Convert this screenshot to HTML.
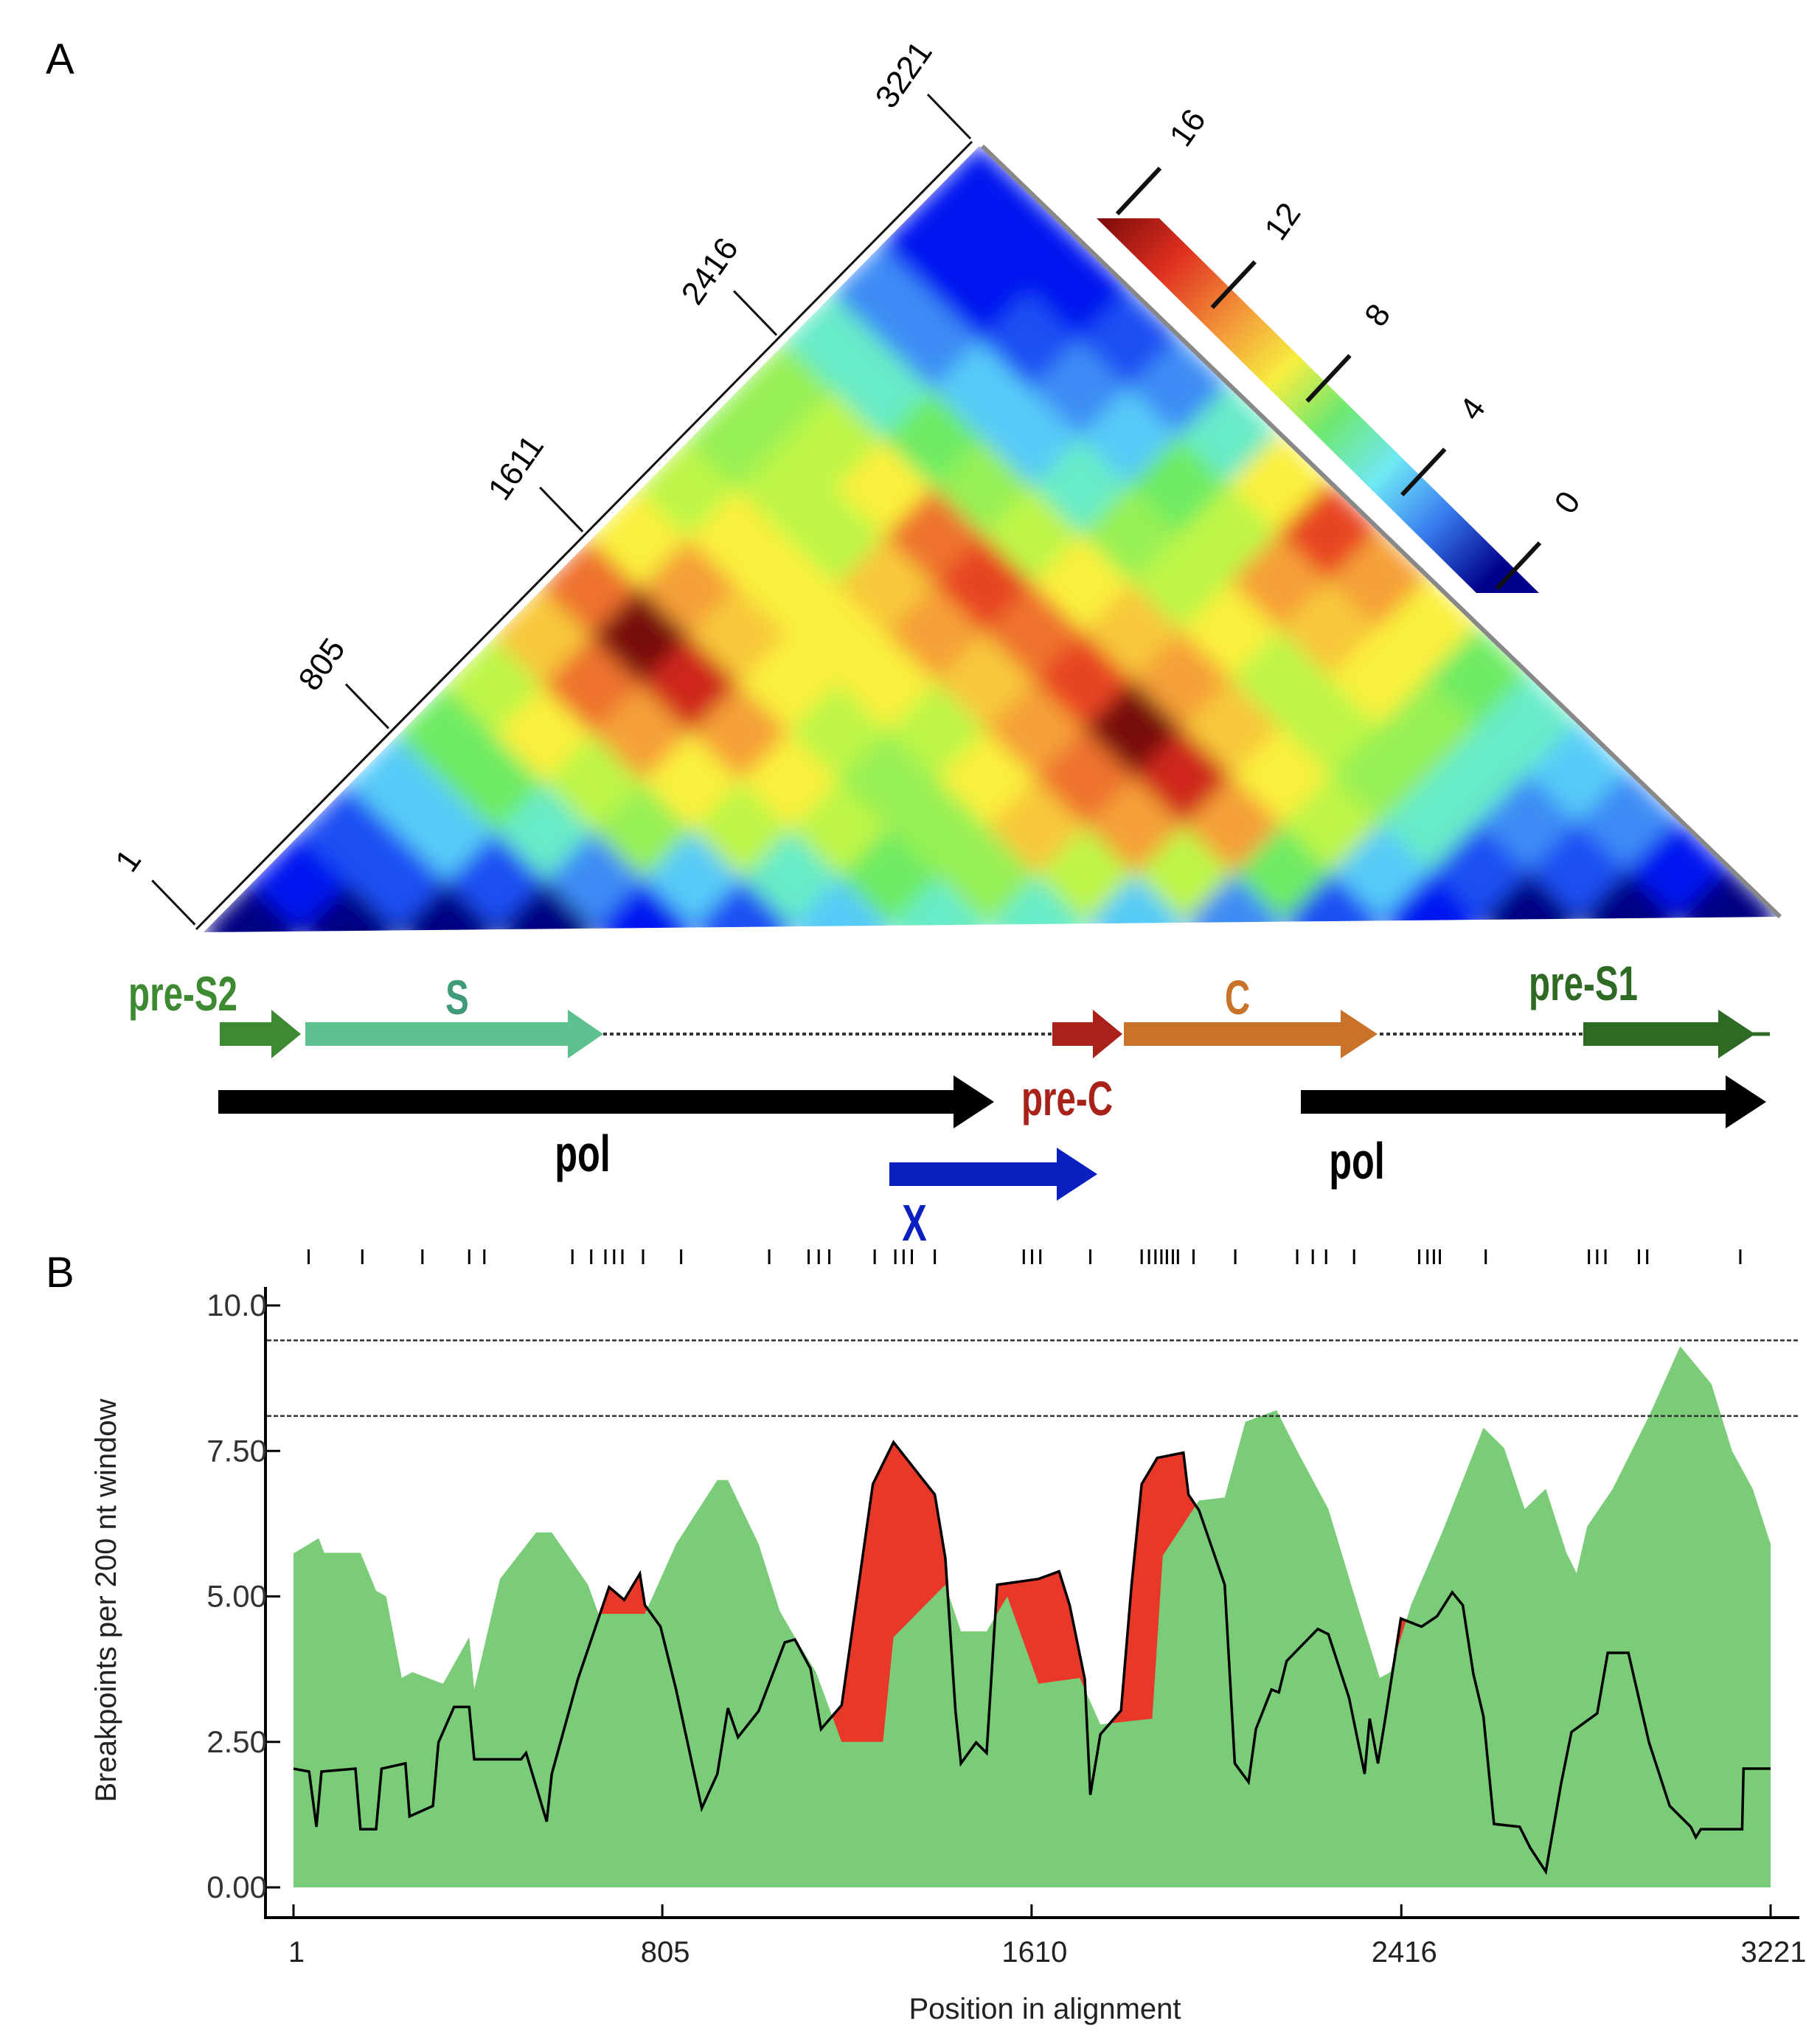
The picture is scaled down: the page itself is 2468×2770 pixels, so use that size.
<!DOCTYPE html>
<html><head><meta charset="utf-8"><style>
html,body{margin:0;padding:0;background:#fff}
svg{display:block}
text{font-family:"Liberation Sans",sans-serif}
</style></head><body>
<svg id="fig" width="2468" height="2770" viewBox="0 0 2468 2770" xmlns="http://www.w3.org/2000/svg">
<defs>
<filter id="soft" x="-5%" y="-5%" width="110%" height="110%"><feGaussianBlur stdDeviation="14"/></filter>
<clipPath id="triClip"><polygon points="276,1264 1328,198 2410,1243"/></clipPath>
<linearGradient id="cbGrad" gradientUnits="userSpaceOnUse" x1="1487" y1="296" x2="2002" y2="804">
<stop offset="0" stop-color="#7a0a0a"/><stop offset="0.16" stop-color="#e03020"/><stop offset="0.32" stop-color="#f39a3a"/>
<stop offset="0.45" stop-color="#f7ee40"/><stop offset="0.58" stop-color="#6fe870"/><stop offset="0.72" stop-color="#6fe8f5"/>
<stop offset="0.85" stop-color="#3a7ff0"/><stop offset="1" stop-color="#00008a"/></linearGradient>
</defs>
<text x="62" y="100" font-size="58">A</text>
<text x="62" y="1745" font-size="58">B</text>
<g id="heat" clip-path="url(#triClip)"><g id="heatCells" filter="url(#soft)"></g></g>
<g id="heatAxis"></g>
<g id="cbar"></g>
<g id="genes"></g>
<g id="chartB"></g>
</svg>
<script>
const NS="http://www.w3.org/2000/svg";
function mk(tag,attrs,parent){const e=document.createElementNS(NS,tag);for(const k in attrs)e.setAttribute(k,attrs[k]);parent.appendChild(e);return e;}

// ---------- Panel A heatmap data (16 bins of ~201 nt, upper triangle rows) ----------
const heatRows=[
[0,1,2,4,6,8,10,12,9,8,7,7,5,3,1,1],
[0,2,4,6,9,12,16,11,9,8,8,5,3,1,1],
[0,2,5,8,11,14,10,9,8,9,6,4,2,1],
[0,3,7,9,11,9,9,10,12,7,4,3,2],
[1,4,8,9,8,9,11,13,8,5,4,3],
[2,5,8,7,8,10,12,9,7,6,5],
[4,6,7,9,11,13,10,8,8,9],
[5,7,10,12,16,11,9,11,13],
[5,8,11,14,10,8,10,11],
[4,8,11,9,8,9,9],
[3,6,8,7,7,6],
[2,4,5,5,5],
[1,2,3,4],
[0,2,3],
[0,1],
[0]];
const heatAxisTicks=[1,805,1611,2416,3221];
const cbarTicks=[16,12,8,4,0];
const genomeLen=3221;

const L=[276,1264], A=[1328,198], R=[2410,1243];
function tri(a,b){const u=b/genomeLen,v=a/genomeLen;return [L[0]+u*(A[0]-L[0])+v*(R[0]-A[0]), L[1]+u*(A[1]-L[1])+v*(R[1]-A[1])];}
const cstops=[[0,[0,0,130]],[1,[0,20,240]],[3,[60,140,245]],[4.5,[100,235,250]],[6,[110,235,100]],[8,[190,245,70]],[9,[250,240,60]],[11,[245,160,55]],[13.5,[228,45,30]],[16,[120,10,10]]];
function cmap(v){for(let k=1;k<cstops.length;k++){if(v<=cstops[k][0]){const [v0,c0]=cstops[k-1],[v1,c1]=cstops[k];const t=(v-v0)/(v1-v0);return `rgb(${c0.map((c,i)=>Math.round(c+(c1[i]-c)*t)).join(',')})`;}}return 'rgb(120,10,10)';}
const hc=document.getElementById('heatCells');
const nb=heatRows.length, bw=genomeLen/nb;
heatRows.forEach((row,i)=>{row.forEach((val,k)=>{const j=i+k;
 const a0=i*bw-bw*0.02,a1=(i+1)*bw+bw*0.02,b0=j*bw-bw*0.02,b1=(j+1)*bw+bw*0.02;
 const pts=[tri(a0,b0),tri(a0,b1),tri(a1,b1),tri(a1,b0)].map(p=>p.join(',')).join(' ');
 const c=mk('polygon',{points:pts,fill:cmap(val)},hc);
 
 
});});
// triangle edges
const ha=document.getElementById('heatAxis');
mk('line',{x1:L[0]-10,y1:L[1]-4,x2:A[0]-10,y2:A[1]-6,stroke:'#111','stroke-width':3},ha);
mk('line',{x1:A[0]+4,y1:A[1],x2:R[0]+4,y2:R[1],stroke:'#888','stroke-width':6},ha);
heatAxisTicks.forEach(t=>{const p=tri(0,t);
 const ln=mk('line',{x1:p[0]-12,y1:p[1]-10,x2:p[0]-70,y2:p[1]-70,stroke:'#111','stroke-width':3},ha);
 
 
 const tx=mk('text',{x:p[0]-100,y:p[1]-95,'font-size':44,'text-anchor':'middle','dominant-baseline':'middle',transform:`rotate(-55 ${p[0]-100} ${p[1]-95})`},ha);
 tx.textContent=t;
 
 
});
// colorbar
const cb=document.getElementById('cbar');
mk('polygon',{points:'1487,296 1572,296 2087,804 2002,804',fill:'url(#cbGrad)'},cb);
const cbTop=[1490,290],cbBot=[2005,798];
cbarTicks.forEach(t=>{const f=(16-t)/16;const x=cbTop[0]+f*(cbBot[0]-cbTop[0])+25,y=cbTop[1]+f*(cbBot[1]-cbTop[1]);
 const ln=mk('line',{x1:x,y1:y,x2:x+58,y2:y-62,stroke:'#111','stroke-width':6},cb);
 
 
 const tx=mk('text',{x:x+98,y:y-115,'font-size':44,'text-anchor':'middle','dominant-baseline':'middle',transform:`rotate(-55 ${x+98} ${y-115})`},cb);
 tx.textContent=t;
 
 
});

// ---------- Genome map ----------
const g=document.getElementById('genes');
function arrow(x0,x1,yc,sh,hh,hl,col,name){const p=`${x0},${yc-sh/2} ${x1-hl},${yc-sh/2} ${x1-hl},${yc-hh/2} ${x1},${yc} ${x1-hl},${yc+hh/2} ${x1-hl},${yc+sh/2} ${x0},${yc+sh/2}`;const e=mk('polygon',{points:p,fill:col},g);}
function lbl(x,y,s,col,name,size){const e=mk('text',{x:0,y:0,'font-size':size||66,'font-weight':'bold','text-anchor':'middle',fill:col,transform:`translate(${x} ${y}) scale(0.72 1)`},g);e.textContent=s;}
mk('line',{x1:818,y1:1402,x2:1427,y2:1402,stroke:'#333','stroke-width':4,'stroke-dasharray':'5 4'},g);
mk('line',{x1:1871,y1:1402,x2:2147,y2:1402,stroke:'#333','stroke-width':4,'stroke-dasharray':'5 4'},g);
mk('line',{x1:2370,y1:1402,x2:2400,y2:1402,stroke:'#2f6a25','stroke-width':5},g);
arrow(298,408,1402,32,66,40,'#3d8a33','pre-s2-arrow');
arrow(414,818,1402,32,66,48,'#5cc08f','s-arrow');
arrow(1427,1522,1402,32,66,40,'#a8221a','pre-c-arrow');
arrow(1524,1868,1402,32,66,50,'#c9722a','c-arrow');
arrow(2147,2380,1402,32,66,50,'#2f6a25','pre-s1-arrow');
arrow(296,1348,1494,32,72,55,'#000','pol-arrow-1');
arrow(1764,2395,1494,32,72,55,'#000','pol-arrow-2');
arrow(1206,1488,1592,32,72,55,'#0a1fc0','x-arrow');
lbl(248,1370,'pre-S2','#3d8a33','pre-s2-label');
lbl(620,1375,'S','#3f9a78','s-label');
lbl(1678,1375,'C','#c9722a','c-label');
lbl(2147,1356,'pre-S1','#2f6a25','pre-s1-label');
lbl(1447,1512,'pre-C','#a8221a','pre-c-label');
lbl(790,1588,'pol','#000','pol-label-1',70);
lbl(1840,1598,'pol','#000','pol-label-2',70);
lbl(1240,1682,'X','#0a1fc0','x-label',70);

// ---------- Panel B data ----------
const greenPos=[1,56,68,147,181,203,237,260,327,384,395,451,530,564,643,666,767,835,925,948,1015,1061,1094,1140,1196,1286,1309,1422,1456,1512,1557,1625,1715,1760,1873,1896,1975,2031,2076,2144,2189,2257,2324,2369,2392,2437,2505,2550,2595,2640,2685,2731,2776,2798,2821,2877,2956,3024,3092,3137,3182,3221];
const greenVal=[5.74,6.0,5.75,5.75,5.1,5.0,3.6,3.7,3.5,4.3,3.4,5.3,6.1,6.1,5.2,4.7,4.7,5.9,7.0,7.0,5.9,4.75,4.3,3.7,2.5,2.5,4.3,5.2,4.4,4.4,5.0,3.5,3.6,2.8,2.9,5.7,6.65,6.7,8.0,8.2,7.5,6.5,4.75,3.6,3.7,4.85,6.1,7.0,7.9,7.55,6.5,6.85,5.75,5.4,6.2,6.85,8.1,9.3,8.65,7.5,6.85,5.9];
const linePos=[1,35,51,62,136,147,181,193,245,254,305,317,351,384,395,497,508,553,564,621,689,722,756,767,801,835,891,925,948,970,1015,1072,1094,1128,1151,1196,1230,1264,1309,1354,1399,1422,1444,1456,1489,1512,1535,1625,1670,1693,1726,1738,1760,1805,1828,1850,1884,1941,1952,1975,2031,2053,2083,2099,2133,2149,2166,2234,2257,2302,2336,2347,2365,2381,2415,2460,2494,2527,2550,2573,2595,2618,2674,2697,2731,2764,2787,2843,2866,2911,2956,3001,3047,3058,3069,3159,3162,3221];
const lineVal=[2.04,1.99,1.04,1.99,2.04,1.0,1.0,2.04,2.13,1.22,1.4,2.49,3.1,3.1,2.2,2.2,2.31,1.13,1.95,3.58,5.16,4.94,5.39,4.85,4.48,3.4,1.36,1.95,3.08,2.58,3.03,4.21,4.26,3.76,2.72,3.13,5.03,6.93,7.65,7.2,6.75,5.66,3.04,2.13,2.49,2.31,5.2,5.3,5.43,4.85,3.58,1.59,2.63,3.04,5.2,6.93,7.38,7.47,6.75,6.48,5.2,2.13,1.81,2.72,3.4,3.35,3.89,4.44,4.35,3.26,1.95,2.9,2.13,2.9,4.62,4.48,4.66,5.07,4.85,3.67,2.94,1.09,1.04,0.68,0.27,1.77,2.67,2.99,4.03,4.03,2.49,1.4,1.04,0.86,1.0,1.0,2.04,2.04];
const breakpoints=[34,151,282,384,417,609,650,681,700,718,763,846,1038,1124,1146,1169,1268,1313,1331,1349,1399,1593,1611,1629,1738,1850,1866,1880,1893,1905,1918,1929,1963,2054,2189,2223,2252,2313,2455,2473,2487,2500,2600,2825,2843,2861,2934,2952,3155];
const thresholds=[9.4,8.1];
const yTicks=[0,2.5,5,7.5,10];
const yTickLabels=['0.00','2.50','5.00','7.50','10.0'];
const xTicks=[1,805,1610,2416,3221];

const xS=p=>398+(p-1)/3220*(2401-398);
const yS=v=>2559-v*78.9;
const cB=document.getElementById('chartB');
function areaPath(P,V){let d=`M${xS(P[0])},${yS(0)}`;P.forEach((p,i)=>{d+=` L${xS(p)},${yS(V[i])}`;});d+=` L${xS(P[P.length-1])},${yS(0)} Z`;return d;}
const red=mk('path',{d:areaPath(linePos,lineVal),fill:'#e8382a'},cB);


const green=mk('path',{d:areaPath(greenPos,greenVal),fill:'#7acc78'},cB);


const line=mk('polyline',{points:linePos.map((p,i)=>`${xS(p)},${yS(lineVal[i])}`).join(' '),fill:'none',stroke:'#000','stroke-width':3.5},cB);


thresholds.forEach(t=>{const e=mk('line',{x1:362,x2:2440,y1:yS(t),y2:yS(t),stroke:'#333','stroke-width':2.5,'stroke-dasharray':'6 3'},cB);
 
 });
breakpoints.forEach(p=>{const e=mk('line',{x1:xS(p),x2:xS(p),y1:1694,y2:1714,stroke:'#000','stroke-width':3},cB);
 
 });
const ya=mk('line',{x1:360,x2:360,y1:1745,y2:2602,stroke:'#000','stroke-width':4},cB);

const xa=mk('line',{x1:358,x2:2440,y1:2600,y2:2600,stroke:'#000','stroke-width':4},cB);

yTicks.forEach((t,i)=>{mk('line',{x1:360,x2:380,y1:yS(t),y2:yS(t),stroke:'#000','stroke-width':3},cB);
 const e=mk('text',{x:362,y:yS(t)+14,'font-size':42,'text-anchor':'end',fill:'#333'},cB);e.textContent=yTickLabels[i];
 
 });
xTicks.forEach(t=>{mk('line',{x1:xS(t),x2:xS(t),y1:2600,y2:2582,stroke:'#000','stroke-width':3},cB);
 const e=mk('text',{x:xS(t)+4,y:2660,'font-size':40,'text-anchor':'middle',fill:'#222'},cB);e.textContent=t;
 
 });
const xt=mk('text',{x:1417,y:2737,'font-size':40,'text-anchor':'middle',fill:'#222'},cB);xt.textContent='Position in alignment';

const yt=mk('text',{x:0,y:0,'font-size':40,'text-anchor':'middle',fill:'#222',transform:'translate(157 2170) rotate(-90)'},cB);yt.textContent='Breakpoints per 200 nt window';

</script>
</body></html>
